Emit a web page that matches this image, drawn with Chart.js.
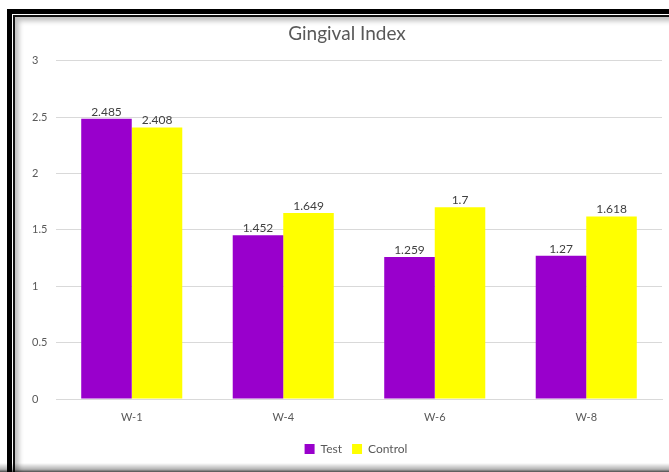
<!DOCTYPE html>
<html>
<head>
<meta charset="utf-8">
<script src="https://cdn.jsdelivr.net/npm/chart.js@4/dist/chart.umd.min.js"></script>
<style>
  html, body { margin: 0; padding: 0; background: #fff; }
  #wrap { position: relative; width: 669px; height: 472px; overflow: hidden; }
  #c { position: absolute; left: 0; top: 0; }
  .frame-outer { position: absolute; left: 7px; top: 9px; width: 700px; height: 500px;
    border-top: 5px solid #000; border-left: 5px solid #000; pointer-events: none; }
  .frame-inner { position: absolute; left: 13px; top: 15px; width: 700px; height: 500px;
    border-top: 2px solid #111; border-left: 2px solid #111; pointer-events: none;
    box-shadow: inset 4px 4px 5px rgba(0,0,0,0.25); }
  .frame-bottom { position: absolute; left: 0; top: 463px; width: 669px; height: 9px;
    background: linear-gradient(to bottom, rgba(0,0,0,0), rgba(0,0,0,0.3) 70%, rgba(0,0,0,0.7)); pointer-events: none; }
</style>
</head>
<body>
<div id="wrap">
  <canvas id="c" width="669" height="472"></canvas>
  <div class="frame-outer"></div>
  <div class="frame-inner"></div>
  <div class="frame-bottom"></div>
</div>
<script>
  const weeks = ['W-1', 'W-4', 'W-6', 'W-8'];
  const testValues = [2.485, 1.452, 1.259, 1.27];
  const controlValues = [2.408, 1.649, 1.7, 1.618];
  const yTicks = [0, 0.5, 1, 1.5, 2, 2.5, 3];

  const FONT = 'Lato, "Liberation Sans", sans-serif';
  const TEXT = '#595959';

  // labels over the bars
  const barLabels = {
    id: 'barLabels',
    afterDatasetsDraw(chart) {
      const ctx = chart.ctx;
      ctx.save();
      ctx.font = '12px ' + FONT;
      ctx.fillStyle = '#404040';
      ctx.textAlign = 'center';
      ctx.textBaseline = 'bottom';
      chart.data.datasets.forEach((ds, i) => {
        chart.getDatasetMeta(i).data.forEach((bar, j) => {
          ctx.fillText(String(ds.data[j]), bar.x, bar.y - 1);
        });
      });
      ctx.restore();
    },
  };

  // legend sits a bit right of the padded centre, under the plot
  const legendShift = {
    id: 'legendShift',
    afterLayout(chart) {
      chart.legend.left += 9;
      chart.legend.right += 9;
    },
  };

  new Chart(document.getElementById('c'), {
    type: 'bar',
    data: {
      labels: weeks,
      datasets: [
        { label: 'Test', data: testValues, backgroundColor: '#9900CC' },
        { label: 'Control', data: controlValues, backgroundColor: '#FFFF00' },
      ],
    },
    options: {
      responsive: false,
      animation: false,
      layout: { padding: { left: 32, right: 7, top: 17, bottom: 7 } },
      datasets: { bar: { categoryPercentage: 0.667, barPercentage: 1 } },
      plugins: {
        title: {
          display: true,
          text: 'Gingival Index',
          color: TEXT,
          font: { family: FONT, size: 19, weight: 'normal' },
          padding: { top: 5, bottom: 16 },
        },
        legend: {
          position: 'bottom',
          labels: {
            color: TEXT,
            font: { family: FONT, size: 12 },
            boxWidth: 10,
            boxHeight: 10,
            padding: 10,
          },
        },
        tooltip: { enabled: false },
      },
      scales: {
        x: {
          grid: { display: false },
          border: { display: true, color: '#d9d9d9' },
          ticks: { color: TEXT, font: { family: FONT, size: 11 }, padding: 4 },
          afterFit: s => { s.height = 34; },
        },
        y: {
          min: 0,
          max: 3,
          afterBuildTicks: s => { s.ticks = yTicks.map(v => ({ value: v })); },
          grid: { color: '#d9d9d9', drawTicks: false },
          border: { display: false },
          ticks: {
            color: TEXT,
            font: { family: FONT, size: 11 },
            crossAlign: 'far',
            callback: v => String(v),
          },
          afterFit: s => { s.width = 24; },
        },
      },
    },
    plugins: [barLabels, legendShift],
  });
</script>
</body>
</html>
